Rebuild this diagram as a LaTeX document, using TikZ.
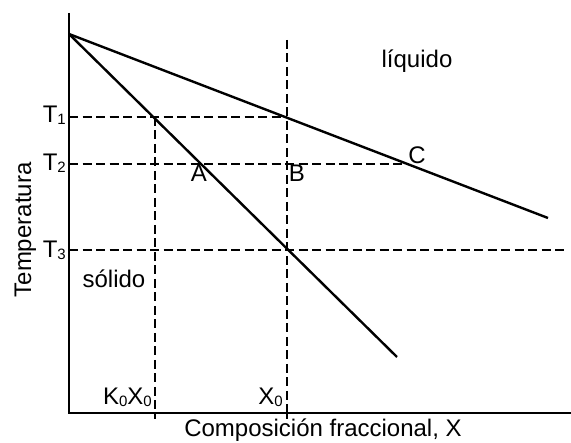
\documentclass[tikz,border=0pt]{standalone}
\usepackage{fontspec}
\setmainfont{Liberation Sans}
\newcommand{\sbs}[1]{\raisebox{-2pt}{\fontsize{15}{15}\selectfont #1}}
\begin{document}
\begin{tikzpicture}[x=1pt,y=-1pt,
  font=\fontsize{24}{28}\selectfont,
  axis/.style={line width=1.6pt},
  curve/.style={line width=2.4pt},
  guide/.style={line width=1.2pt, dash pattern=on 9pt off 4.5pt},
  tick/.style={line width=1.2pt},
  lbl/.style={inner sep=0pt, anchor=base}]
\useasboundingbox (0,0) rectangle (571,443);
% axes
\coordinate (ytop) at (69,13);
\coordinate (orig) at (69,413);
\coordinate (xend) at (571,413);
\draw[axis] (ytop) -- (orig) -- (xend);
% key points
\coordinate (top) at (69,34);
\coordinate (liqend) at (548,218);
\coordinate (solend) at (397,357);
\coordinate (t1a) at (69,117);
\coordinate (t1s) at (155,117);
\coordinate (t1l) at (287,117);
\coordinate (t2a) at (69,164);
\coordinate (t2c) at (402,164);
\coordinate (t3a) at (69,250);
\coordinate (t3e) at (565,250);
\coordinate (x0top) at (287,40);
\coordinate (x0ax) at (287,413);
\coordinate (x0bot) at (287,419);
\coordinate (k0ax) at (155,413);
\coordinate (k0bot) at (155,419);
% guides
\draw[guide] (t1a) -- (t1l);
\draw[guide] (t2a) -- (t2c);
\draw[guide] (t3a) -- (t3e);
\draw[guide] (x0top) -- (x0ax);
\draw[guide] (t1s) -- (k0ax);
\draw[tick] (x0ax) -- (x0bot);
\draw[tick] (k0ax) -- (k0bot);
% curves
\draw[curve] (top) -- (liqend);
\draw[curve] (top) -- (solend);
% labels
\node[lbl, anchor=base east] (T1) at (66,123) {T\sbs{1}};
\node[lbl, anchor=base east] (T2) at (66,171) {T\sbs{2}};
\node[lbl, anchor=base east] (T3) at (66,258) {T\sbs{3}};
\node[lbl] (A) at (199,182) {A};
\node[lbl] (B) at (297,182) {B};
\node[lbl] (C) at (417,164) {C};
\node[lbl] (liq) at (417,68) {líquido};
\node[lbl] (sol) at (114,288) {sólido};
\node[lbl, anchor=base east] (K0X0) at (152,405) {K\sbs{0}X\sbs{0}};
\node[lbl, anchor=base east] (X0) at (283,405) {X\sbs{0}};
\node[lbl] (xlab) at (323,437) {Composición fraccional, X};
\node[lbl, rotate=90] (ylab) at (31,230) {Temperatura};
\end{tikzpicture}
\end{document}
